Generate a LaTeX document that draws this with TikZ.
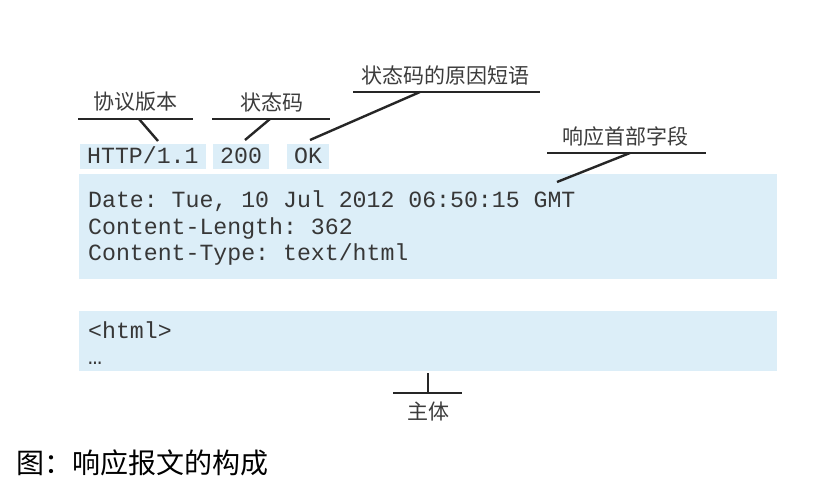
\documentclass[tikz,border=0pt]{standalone}
\usepackage{fontspec}
\newfontfamily\cjk{Noto Sans CJK SC}
\newfontfamily\monof{Liberation Mono}
\definecolor{boxblue}{RGB}{220,238,248}
\definecolor{txtgray}{RGB}{55,55,55}
\definecolor{lblgray}{RGB}{60,60,60}
\newcommand\monosel{\monof\fontsize{23.2}{26}\selectfont\frenchspacing\fontdimen2\font=13.92pt\fontdimen3\font=0pt\fontdimen4\font=0pt}
\begin{document}
\begin{tikzpicture}[x=1pt,y=-1pt,
  tbox/.style={fill=boxblue,inner xsep=7pt,inner ysep=0pt,text height=19pt,text depth=6pt,
    font=\monosel,text=txtgray,anchor=base west},
  bigbox/.style={fill=boxblue,inner sep=0pt,anchor=north west},
  mono/.style={font=\monosel,text=txtgray,inner sep=0pt,anchor=base west},
  lbl/.style={font=\cjk\fontsize{21}{24}\selectfont,text=lblgray,inner sep=0pt},
  ln/.style={line width=2.4pt,draw=black!85}
]
\useasboundingbox (0,0) rectangle (828,495);
\fill[white] (0,0) rectangle (828,495);

% status line boxes
\node[tbox] (http) at (80,163) {HTTP/1.1};
\node[tbox] (code) at (213,163) {200};
\node[tbox] (ok) at (287,163) {OK};

% header box
\node[bigbox,minimum width=698pt,minimum height=105pt] (hdr) at (79,174) {};
\node[mono] (l1) at (88,207) {Date: Tue, 10 Jul 2012 06:50:15 GMT};
\node[mono] (l2) at (88,234) {Content-Length: 362};
\node[mono] (l3) at (88,260) {Content-Type: text/html};

% body box
\node[bigbox,minimum width=698pt,minimum height=60pt] (body) at (79,311) {};
\node[mono] (b1) at (88,338) {<html>};
\node[mono] (b2) at (88,364) {…};

% labels
\node[lbl] (lv) at (135,102) {协议版本};
\node[lbl] (lc) at (272,102) {状态码};
\node[lbl] (lr) at (445,75) {状态码的原因短语};
\node[lbl] (lh) at (625,137) {响应首部字段};
\node[lbl] (lb) at (428,412) {主体};

% connector coordinates
\coordinate (v1) at (78,119);  \coordinate (v2) at (193,119);
\coordinate (vm) at (139,119); \coordinate (vt) at (158,141);
\coordinate (c1) at (212,119); \coordinate (c2) at (330,119);
\coordinate (cm) at (270,119); \coordinate (ct) at (245,140);
\coordinate (r1) at (353,92);  \coordinate (r2) at (540,92);
\coordinate (rm) at (420,92);  \coordinate (rt) at (310,140);
\coordinate (h1) at (547,153); \coordinate (h2) at (706,153);
\coordinate (hm) at (630,153); \coordinate (ht) at (557,182);
\coordinate (bt) at (428,373); \coordinate (bm) at (428,393);
\coordinate (bl) at (393,393); \coordinate (br) at (462,393);

\draw[ln] (v1) -- (v2); \draw[ln] (vm) -- (vt);
\draw[ln] (c1) -- (c2); \draw[ln] (cm) -- (ct);
\draw[ln] (r1) -- (r2); \draw[ln] (rm) -- (rt);
\draw[ln] (h1) -- (h2); \draw[ln] (hm) -- (ht);
\draw[ln] (bl) -- (br); \draw[ln] (bt) -- (bm);

% caption
\node[font=\cjk\fontsize{28}{31}\selectfont,text=black,inner sep=0pt,anchor=west] (cap) at (16,463) {图：响应报文的构成};
\end{tikzpicture}
\end{document}
